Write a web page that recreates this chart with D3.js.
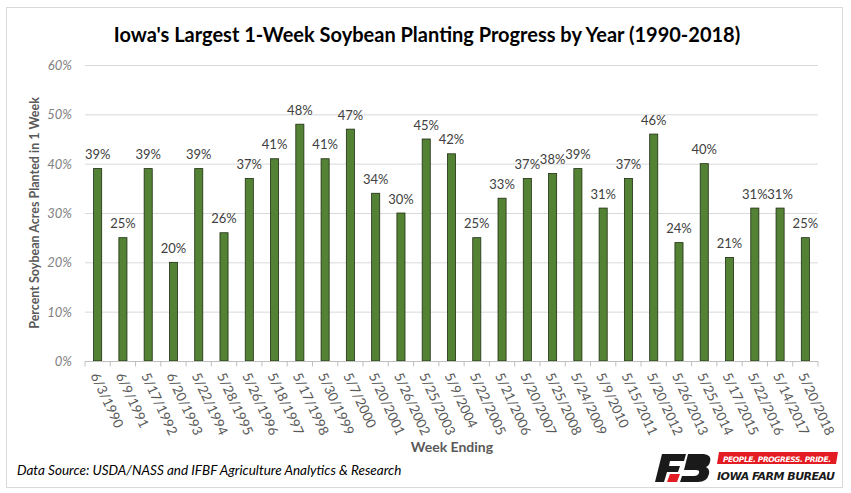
<!DOCTYPE html>
<html><head><meta charset="utf-8">
<script src="https://cdn.jsdelivr.net/npm/d3@7"></script>
<style>body{margin:0;background:#fff}svg{display:block}</style>
</head><body>
<script>
const categories = ["6/3/1990","6/9/1991","5/17/1992","6/20/1993","5/22/1994","5/28/1995","5/26/1996","5/18/1997","5/17/1998","5/30/1999","5/7/2000","5/20/2001","5/26/2002","5/25/2003","5/9/2004","5/22/2005","5/21/2006","5/20/2007","5/25/2008","5/24/2009","5/9/2010","5/15/2011","5/20/2012","5/26/2013","5/25/2014","5/17/2015","5/22/2016","5/14/2017","5/20/2018"];
const values = [39,25,39,20,39,26,37,41,48,41,47,34,30,45,42,25,33,37,38,39,31,37,46,24,40,21,31,31,25];
const yTicks = [0,10,20,30,40,50,60];

const W = 851, H = 493;
const svg = d3.select("body").append("svg").attr("width", W).attr("height", H);
const font = "Lato, 'Open Sans', sans-serif";

svg.append("rect").attr("x",6.5).attr("y",7.5).attr("width",836).attr("height",480)
  .attr("fill","#fff").attr("stroke","#d9d9d9");

const x = d3.scaleBand().domain(categories).range([85, 818]).paddingInner(0.68).paddingOuter(0.34);
const y = d3.scaleLinear().domain([0, 60]).range([361, 65]);

// gridlines
svg.append("g").selectAll("line").data(yTicks.filter(d=>d>0)).join("line")
  .attr("x1",85).attr("x2",818).attr("y1",d=>y(d)+0.5).attr("y2",d=>y(d)+0.5)
  .attr("stroke","#d9d9d9").attr("stroke-width",1);

// y labels
svg.append("g").selectAll("text").data(yTicks).join("text")
  .attr("x",72).attr("y",d=>y(d)+5).attr("text-anchor","end")
  .attr("font-family",font).attr("font-style","italic").attr("font-size",13).attr("fill","#7f7f7f")
  .text(d=>d+"%");

// bars
svg.append("g").selectAll("rect").data(values).join("rect")
  .attr("x",(d,i)=>x(categories[i])).attr("width",x.bandwidth())
  .attr("y",d=>y(d)).attr("height",d=>y(0)-y(d))
  .attr("fill","#548235").attr("stroke","#1f2d12").attr("stroke-width",0.8);

// value labels
svg.append("g").selectAll("text").data(values).join("text")
  .attr("x",(d,i)=>x(categories[i])+x.bandwidth()/2).attr("y",d=>y(d)-9.5)
  .attr("text-anchor","middle").attr("font-family",font).attr("font-size",13).attr("fill","#404040")
  .text(d=>d+"%");

// x axis
const xAxis = svg.append("g").attr("transform","translate(0,361.5)");
xAxis.append("line").attr("x1",85).attr("x2",818).attr("stroke","#bfbfbf");
const step = x.step();
xAxis.selectAll("line.t").data(d3.range(categories.length+1)).join("line").attr("class","t")
  .attr("x1",i=>85+i*step).attr("x2",i=>85+i*step).attr("y1",0).attr("y2",5).attr("stroke","#bfbfbf");
xAxis.selectAll("text").data(categories).join("text")
  .attr("transform",d=>`translate(${x(d)+x.bandwidth()/2-3},${12}) rotate(65)`)
  .attr("dy","0.35em")
  .attr("font-family",font).attr("font-size",13.5).attr("fill","#595959")
  .text(d=>d);

// titles
svg.append("text").attr("x",427).attr("y",42).attr("text-anchor","middle")
  .attr("font-family",font).attr("font-weight","bold").attr("font-size",20).attr("fill","#000")
  .text("Iowa's Largest 1-Week Soybean Planting Progress by Year (1990-2018)");
svg.append("text").attr("x",452).attr("y",452).attr("text-anchor","middle")
  .attr("font-family",font).attr("font-weight","bold").attr("font-size",14).attr("fill","#595959")
  .text("Week Ending");
svg.append("text").attr("transform","translate(39,213) rotate(-90)").attr("text-anchor","middle")
  .attr("font-family",font).attr("font-weight","bold").attr("font-size",12.5).attr("fill","#595959")
  .text("Percent Soybean Acres Planted in 1 Week");
svg.append("text").attr("x",17).attr("y",475)
  .attr("font-family",font).attr("font-style","italic").attr("font-size",13.5).attr("fill","#000")
  .text("Data Source: USDA/NASS and IFBF Agriculture Analytics & Research");

// logo
const lg = svg.append("g");
lg.append("path").attr("d","M662,454 L686,454 L684,461 L670,461 L669,466 L680,466 L678,472 L667,472 L664,482 L655,482 Z").attr("fill","#1a1a1a");
lg.append("path").attr("d","M688,454 L704,454 Q712,455 710,462 Q709,466 706,467 Q710,469 709,474 Q707,482 698,482 L680,482 L682,476 L694,476 Q698,476 699,473 Q700,470 696,470 L684,470 Z").attr("fill","#1a1a1a");
lg.append("path").attr("d","M670,474 L680,474 L677,482 L667,482 Z").attr("fill","#e31b23");
lg.append("path").attr("d","M719,452 L838,452 L836,464 L717,464 Z").attr("fill","#e31b23");
lg.append("text").attr("x",723).attr("y",461.5).attr("font-family","'DejaVu Sans', sans-serif").attr("font-weight","bold")
  .attr("font-style","italic").attr("font-size",7.5).attr("fill","#fff").attr("textLength",108).text("PEOPLE. PROGRESS. PRIDE.");
lg.append("text").attr("x",717).attr("y",480).attr("font-family","'DejaVu Sans', sans-serif").attr("font-weight","bold")
  .attr("font-style","italic").attr("font-size",11).attr("fill","#1a1a1a").attr("textLength",118).text("IOWA FARM BUREAU");
</script>
</body></html>
